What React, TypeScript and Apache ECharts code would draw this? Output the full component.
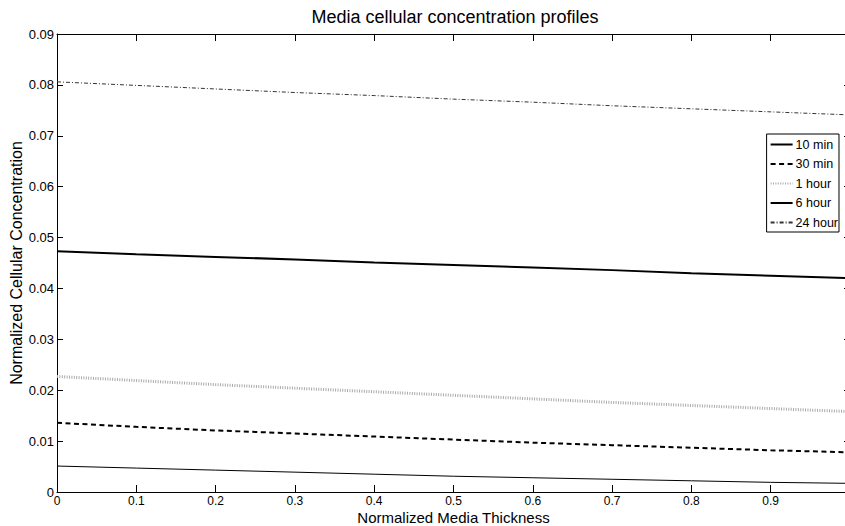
import React, { useEffect, useRef } from "react";
import * as echarts from "echarts";

const xs = [0, 0.1, 0.2, 0.3, 0.4, 0.5, 0.6, 0.7, 0.8, 0.9, 1.0];
const min10 = [0.0051, 0.0047, 0.0043, 0.0039, 0.0035, 0.0031, 0.0028, 0.0025, 0.0022, 0.0019, 0.0017];
const min30 = [0.0136, 0.0128, 0.0121, 0.0115, 0.0109, 0.0103, 0.0097, 0.0092, 0.0087, 0.0082, 0.0078];
const hour1 = [0.0227, 0.0219, 0.0211, 0.0204, 0.0197, 0.019, 0.0183, 0.0176, 0.017, 0.0164, 0.0158];
const hour6 = [0.0473, 0.0467, 0.0462, 0.0457, 0.0451, 0.0446, 0.0441, 0.0436, 0.043, 0.0425, 0.042];
const hour24 = [0.0806, 0.0799, 0.0792, 0.0785, 0.0779, 0.0772, 0.0766, 0.0759, 0.0753, 0.0747, 0.0741];
const seriesNames = ["10 min", "30 min", "1 hour", "6 hour", "24 hour"];

const FONT = "'Liberation Sans', Arial, Helvetica, sans-serif";

function pairs(ys: number[]) {
  return xs.map((x, i) => [x, ys[i]]);
}

export default function App() {
  const ref = useRef<HTMLDivElement>(null);
  useEffect(() => {
    if (!ref.current) return;
    const chart = echarts.init(ref.current, null, { renderer: "svg" });
    const fmt = (v: number) => String(parseFloat(v.toFixed(3)));
    const axisLine = { show: true, onZero: false, lineStyle: { color: "#000", width: 1 } };
    const tickX = { show: true, inside: true, length: 7, lineStyle: { color: "#000", width: 1 } };
    const tickY = { show: true, inside: true, length: 6, lineStyle: { color: "#000", width: 1 } };
    chart.setOption({
      animation: false,
      backgroundColor: "#fff",
      textStyle: { fontFamily: FONT },
      title: {
        text: "Media cellular concentration profiles",
        left: 450,
        textAlign: "center",
        top: 3,
        textStyle: { fontSize: 18, fontWeight: "normal", color: "#000", fontFamily: FONT },
      },
      grid: {
        left: 57,
        right: -5,
        top: 34,
        bottom: 34,
        containLabel: false,
        outerBoundsMode: "none",
      },
      legend: {
        orient: "vertical",
        right: 6,
        top: 134,
        backgroundColor: "#fff",
        borderColor: "#000",
        borderWidth: 1,
        borderRadius: 0,
        padding: [4, 1, 3, 3],
        itemWidth: 22,
        itemHeight: 12,
        itemGap: 6.5,
        itemStyle: { opacity: 0 },
        textStyle: { fontSize: 12.5, color: "#000", fontFamily: FONT, padding: [0, 0, 0, -2] },
        data: seriesNames,
      },
      xAxis: [
        {
          type: "value",
          min: 0,
          max: 1,
          interval: 0.1,
          position: "bottom",
          name: "Normalized Media Thickness",
          nameLocation: "middle",
          nameGap: 18,
          nameMoveOverlap: false,
          nameTextStyle: { fontSize: 15, lineHeight: 15, color: "#000", fontFamily: FONT },
          axisLine,
          axisTick: tickX,
          axisLabel: {
            color: "#000",
            fontSize: 12,
            lineHeight: 12,
            margin: 3,
            fontFamily: FONT,
            formatter: (v: number) => (v >= 1 ? "" : fmt(v)),
          },
          splitLine: { show: false },
        },
        {
          type: "value",
          min: 0,
          max: 1,
          interval: 0.1,
          position: "top",
          axisLine,
          axisTick: tickX,
          axisLabel: { show: false },
          splitLine: { show: false },
        },
      ],
      yAxis: [
        {
          type: "value",
          min: 0,
          max: 0.09,
          interval: 0.01,
          position: "left",
          name: "Normalized Cellular Concentration",
          nameLocation: "middle",
          nameGap: 33,
          nameMoveOverlap: false,
          nameTextStyle: { fontSize: 16, color: "#000", fontFamily: FONT },
          axisLine,
          axisTick: tickY,
          axisLabel: { color: "#000", fontSize: 13, margin: 3, fontFamily: FONT, formatter: fmt },
          splitLine: { show: false },
        },
        {
          type: "value",
          min: 0,
          max: 0.09,
          interval: 0.01,
          position: "right",
          axisLine,
          axisTick: tickY,
          axisLabel: { show: false },
          splitLine: { show: false },
        },
      ],
      series: [
        {
          name: seriesNames[0],
          type: "line",
          data: pairs(min10),
          symbol: "none",
          lineStyle: { color: "#000", width: 1 },
          itemStyle: { color: "#000" },
        },
        {
          name: seriesNames[1],
          type: "line",
          data: pairs(min30),
          symbol: "none",
          lineStyle: { color: "#000", width: 2, type: [5, 3.5] },
          itemStyle: { color: "#000" },
        },
        {
          name: seriesNames[2],
          type: "line",
          data: pairs(hour1),
          symbol: "none",
          lineStyle: { color: "#aaa", width: 3, type: [1, 1.4] },
          itemStyle: { color: "#aaa" },
        },
        {
          name: seriesNames[3],
          type: "line",
          data: pairs(hour6),
          symbol: "none",
          lineStyle: { color: "#000", width: 2 },
          itemStyle: { color: "#000" },
        },
        {
          name: seriesNames[4],
          type: "line",
          data: pairs(hour24),
          symbol: "none",
          lineStyle: { color: "#333", width: 1, type: [4, 2, 1, 2] },
          itemStyle: { color: "#333" },
        },
      ],
    });
    return () => chart.dispose();
  }, []);
  return (
    <div
      ref={ref}
      style={{ position: "absolute", left: 0, top: 0, width: 845, height: 526 }}
    />
  );
}
